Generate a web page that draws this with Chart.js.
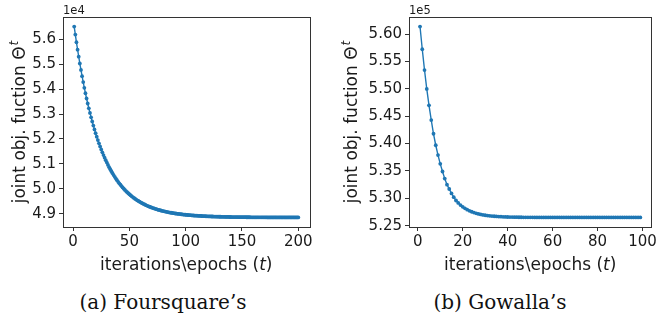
<!DOCTYPE html>
<html>
<head>
<meta charset="utf-8">
<script src="https://cdn.jsdelivr.net/npm/chart.js@4/dist/chart.umd.min.js"></script>
<style>
  html, body { margin: 0; padding: 0; background: #fff; }
  #wrap { position: relative; width: 659px; height: 321px; background: #fff; overflow: hidden; }
  canvas { position: absolute; top: 0; }
  .cap { position: absolute; top: 290px; width: 200px; text-align: center;
         font-family: "DejaVu Serif", serif; font-size: 20px; line-height: 24px; color: #111; }
</style>
</head>
<body>
<div id="wrap">
  <canvas id="fsq" width="330" height="280" style="left:0px"></canvas>
  <canvas id="gow" width="329" height="280" style="left:330px"></canvas>
  <div class="cap" style="left:63px">(a) Foursquare’s</div>
  <div class="cap" style="left:400px">(b) Gowalla’s</div>
</div>
<script>
// Foursquare: joint objective per epoch (1..200)
const fsqValues = [
  56510, 56188, 55879, 55583, 55300, 55028, 54768, 54519, 54281, 54052,
  53833, 53624, 53423, 53230, 53046, 52869, 52700, 52538, 52383, 52234,
  52092, 51955, 51825, 51699, 51579, 51465, 51355, 51249, 51148, 51052,
  50959, 50870, 50785, 50704, 50626, 50551, 50480, 50411, 50345, 50282,
  50222, 50164, 50109, 50056, 50005, 49957, 49910, 49865, 49823, 49782,
  49743, 49705, 49669, 49635, 49601, 49570, 49540, 49511, 49483, 49456,
  49431, 49406, 49383, 49360, 49339, 49318, 49299, 49280, 49262, 49244,
  49228, 49212, 49197, 49182, 49168, 49155, 49142, 49130, 49118, 49107,
  49096, 49085, 49076, 49066, 49057, 49048, 49040, 49032, 49024, 49017,
  49010, 49003, 48997, 48991, 48985, 48979, 48974, 48968, 48963, 48959,
  48954, 48950, 48945, 48941, 48938, 48934, 48930, 48927, 48924, 48921,
  48918, 48915, 48912, 48909, 48907, 48905, 48902, 48900, 48898, 48896,
  48894, 48892, 48890, 48889, 48887, 48885, 48884, 48883, 48881, 48880,
  48879, 48877, 48876, 48875, 48874, 48873, 48872, 48871, 48870, 48869,
  48868, 48868, 48867, 48866, 48865, 48865, 48864, 48863, 48863, 48862,
  48862, 48861, 48861, 48860, 48860, 48859, 48859, 48858, 48858, 48858,
  48857, 48857, 48857, 48856, 48856, 48856, 48856, 48855, 48855, 48855,
  48855, 48854, 48854, 48854, 48854, 48854, 48854, 48853, 48853, 48853,
  48853, 48853, 48853, 48853, 48852, 48852, 48852, 48852, 48852, 48852,
  48852, 48852, 48852, 48852, 48852, 48851, 48851, 48851, 48851, 48851
];

// Gowalla: joint objective per epoch (1..99)
const gowValues = [
  561400, 557250, 553450, 550000, 547000, 544300, 541800, 539700, 537900, 536300,
  534900, 533600, 532500, 531700, 530900, 530200, 529600, 529150, 528770, 528440,
  528160, 527920, 527710, 527540, 527390, 527260, 527150, 527050, 526970, 526900,
  526850, 526800, 526750, 526720, 526680, 526660, 526640, 526620, 526600, 526585,
  526573, 526562, 526553, 526545, 526539, 526533, 526528, 526524, 526521, 526518,
  526515, 526513, 526511, 526510, 526508, 526507, 526506, 526505, 526504, 526503,
  526503, 526502, 526502, 526502, 526501, 526501, 526501, 526501, 526501, 526501,
  526500, 526500, 526500, 526500, 526500, 526500, 526500, 526500, 526500, 526500,
  526500, 526500, 526500, 526500, 526500, 526500, 526500, 526500, 526500, 526500,
  526500, 526500, 526500, 526500, 526500, 526500, 526500, 526500, 526500
];

const fsqXTicks = [0, 50, 100, 150, 200];
const fsqYTicks = [49000, 50000, 51000, 52000, 53000, 54000, 55000, 56000];
const gowXTicks = [0, 20, 40, 60, 80, 100];
const gowYTicks = [525000, 530000, 535000, 540000, 545000, 550000, 555000, 560000];

const BLUE = '#1f77b4';
const AXIS = '#333';
const TXT = '#1a1a1a';
const SANS = '"DejaVu Sans", sans-serif';

// matplotlib-like 5% margins
function padRange(lo, hi) {
  const m = (hi - lo) * 0.05;
  return [lo - m, hi + m];
}

// frame on all four sides + offset text + axis titles with italic parts
const framePlugin = {
  id: 'frame',
  afterDraw(chart, args, o) {
    const ctx = chart.ctx;
    const a = chart.chartArea;
    ctx.save();
    ctx.strokeStyle = AXIS;
    ctx.lineWidth = 1;
    ctx.strokeRect(Math.round(a.left) + 0.5, Math.round(a.top) + 0.5,
      Math.round(a.right - a.left), Math.round(a.bottom - a.top));

    ctx.fillStyle = TXT;
    ctx.font = '11.5px ' + SANS;
    ctx.textBaseline = 'alphabetic';
    ctx.textAlign = 'left';
    ctx.fillText(o.offset, a.left, a.top - 3);

    // x title: iterations\epochs (t)
    const f1 = '17px ' + SANS, f2 = 'italic 17px ' + SANS;
    const parts = [['iterations\\epochs (', f1], ['t', f2], [')', f1]];
    let w = 0;
    parts.forEach(p => { ctx.font = p[1]; w += ctx.measureText(p[0]).width; });
    let x = (a.left + a.right) / 2 - w / 2;
    parts.forEach(p => {
      ctx.font = p[1];
      ctx.fillText(p[0], x, o.xTitleY);
      x += ctx.measureText(p[0]).width;
    });

    // y title: joint obj. fuction Θ^t
    ctx.translate(o.yTitleX, (a.top + a.bottom) / 2);
    ctx.rotate(-Math.PI / 2);
    ctx.font = f1;
    const main = 'joint obj. fuction Θ';
    const mw = ctx.measureText(main).width;
    ctx.font = 'italic 12px ' + SANS;
    const sw = ctx.measureText('t').width;
    const sx = -(mw + sw + 1) / 2;
    ctx.font = f1;
    ctx.fillText(main, sx, 0);
    ctx.font = 'italic 12px ' + SANS;
    ctx.fillText('t', sx + mw + 1, -7);
    ctx.restore();
  }
};

function makeChart(id, values, xTicks, yTicks, cfg) {
  const pts = values.map((v, i) => ({ x: i + 1, y: v }));
  const yr = padRange(Math.min(...values), Math.max(...values));
  const xr = padRange(1, values.length);
  const tickFont = { family: SANS, size: 15 };
  return new Chart(document.getElementById(id), {
    type: 'line',
    data: {
      datasets: [{
        data: pts,
        borderColor: BLUE,
        backgroundColor: BLUE,
        borderWidth: 1.4,
        pointRadius: 1.9,
        pointBorderWidth: 0,
        pointBackgroundColor: BLUE,
        tension: 0,
        fill: false
      }]
    },
    options: {
      responsive: false,
      animation: false,
      devicePixelRatio: 1,
      layout: { autoPadding: false, padding: { left: 0, right: cfg.padRight, top: 17, bottom: 0 } },
      plugins: {
        legend: { display: false },
        tooltip: { enabled: false },
        frame: { offset: cfg.offset, xTitleY: 270, yTitleX: cfg.yTitleX }
      },
      scales: {
        x: {
          type: 'linear',
          min: xr[0],
          max: xr[1],
          afterBuildTicks: s => { s.ticks = xTicks.map(v => ({ value: v })); },
          afterFit: s => { s.height = 53; },
          grid: { display: true, drawOnChartArea: false, drawTicks: true, tickLength: 4, color: AXIS, lineWidth: 1 },
          border: { display: true, color: AXIS, width: 1 },
          ticks: { color: TXT, font: tickFont, padding: 2, maxRotation: 0, autoSkip: false,
                   callback: v => String(v) }
        },
        y: {
          type: 'linear',
          min: yr[0],
          max: yr[1],
          afterBuildTicks: s => { s.ticks = yTicks.map(v => ({ value: v })); },
          afterFit: s => { s.width = cfg.yWidth; },
          grid: { display: true, drawOnChartArea: false, drawTicks: true, tickLength: 4, color: AXIS, lineWidth: 1 },
          border: { display: true, color: AXIS, width: 1 },
          ticks: { color: TXT, font: tickFont, padding: 3, autoSkip: false,
                   callback: v => (v / cfg.scale).toFixed(cfg.digits) }
        }
      }
    },
    plugins: [framePlugin]
  });
}

makeChart('fsq', fsqValues, fsqXTicks, fsqYTicks,
  { padRight: 20.5, yWidth: 63, offset: '1e4', yTitleX: 25, scale: 1e4, digits: 1 });
makeChart('gow', gowValues, gowXTicks, gowYTicks,
  { padRight: 3, yWidth: 79, offset: '1e5', yTitleX: 27, scale: 1e5, digits: 2 });
</script>
</body>
</html>
